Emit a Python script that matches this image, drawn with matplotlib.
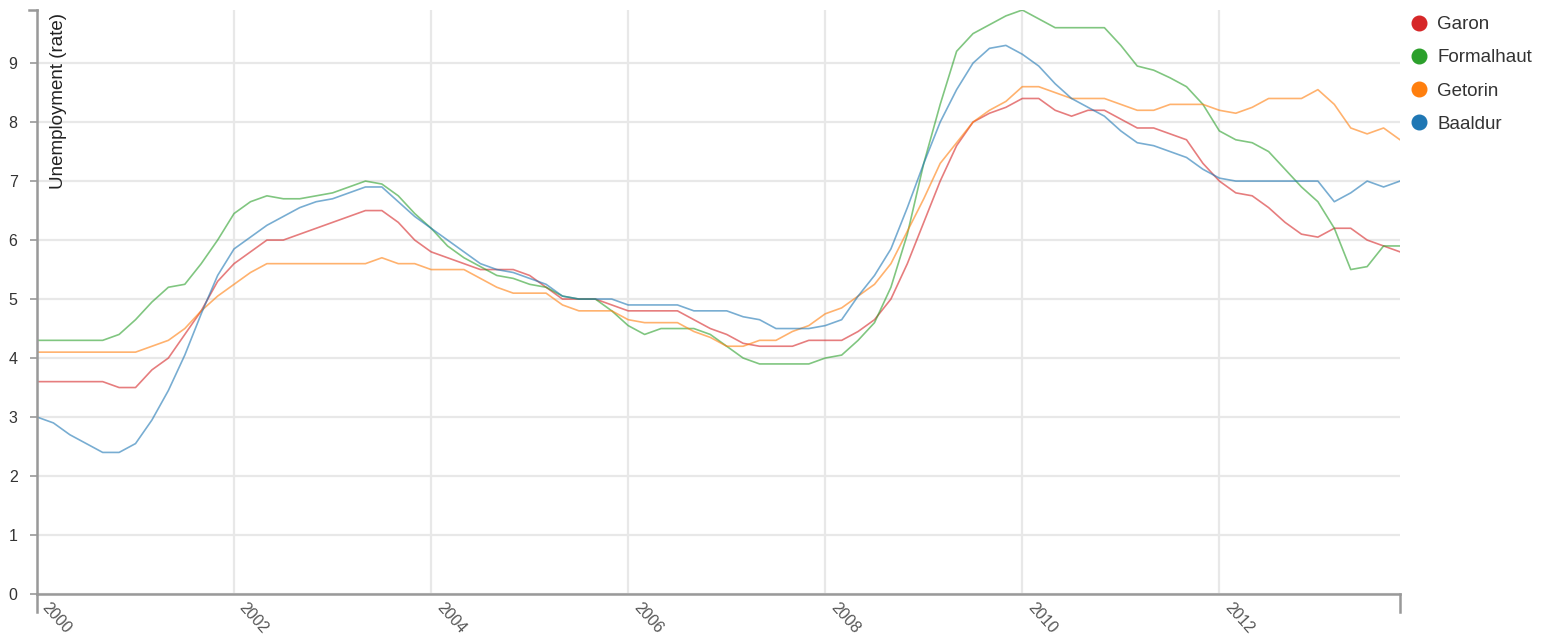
import matplotlib
matplotlib.use("Agg")
import matplotlib.pyplot as plt
import matplotlib.transforms as mtransforms
from matplotlib.lines import Line2D
import numpy as np

plt.rcParams["font.family"] = ["Liberation Sans", "DejaVu Sans"]

# Bimonthly samples: Jan 2000, Mar 2000, ... Nov 2013
start_year = 2000
n_points = 84
dates = [start_year + (2 * k) / 12.0 for k in range(n_points)]

garon = [3.6, 3.6, 3.6, 3.6, 3.6, 3.5, 3.5, 3.8, 4.0, 4.4, 4.8, 5.3,
         5.6, 5.8, 6.0, 6.0, 6.1, 6.2, 6.3, 6.4, 6.5, 6.5, 6.3, 6.0,
         5.8, 5.7, 5.6, 5.5, 5.5, 5.5, 5.4, 5.2, 5.0, 5.0, 5.0, 4.9,
         4.8, 4.8, 4.8, 4.8, 4.65, 4.5, 4.4, 4.25, 4.2, 4.2, 4.2, 4.3,
         4.3, 4.3, 4.45, 4.65, 5.0, 5.6, 6.3, 7.0, 7.6, 8.0, 8.15, 8.25,
         8.4, 8.4, 8.2, 8.1, 8.2, 8.2, 8.05, 7.9, 7.9, 7.8, 7.7, 7.3,
         7.0, 6.8, 6.75, 6.55, 6.3, 6.1, 6.05, 6.2, 6.2, 6.0, 5.9, 5.8]

formalhaut = [4.3, 4.3, 4.3, 4.3, 4.3, 4.4, 4.65, 4.95, 5.2, 5.25, 5.6, 6.0,
              6.45, 6.65, 6.75, 6.7, 6.7, 6.75, 6.8, 6.9, 7.0, 6.95, 6.75, 6.45,
              6.2, 5.9, 5.7, 5.55, 5.4, 5.35, 5.25, 5.2, 5.05, 5.0, 5.0, 4.8,
              4.55, 4.4, 4.5, 4.5, 4.5, 4.4, 4.2, 4.0, 3.9, 3.9, 3.9, 3.9,
              4.0, 4.05, 4.3, 4.6, 5.2, 6.1, 7.3, 8.3, 9.2, 9.5, 9.65, 9.8,
              9.9, 9.75, 9.6, 9.6, 9.6, 9.6, 9.3, 8.95, 8.88, 8.75, 8.6, 8.3,
              7.85, 7.7, 7.65, 7.5, 7.2, 6.9, 6.65, 6.2, 5.5, 5.55, 5.9, 5.9]

getorin = [4.1, 4.1, 4.1, 4.1, 4.1, 4.1, 4.1, 4.2, 4.3, 4.5, 4.8, 5.05,
           5.25, 5.45, 5.6, 5.6, 5.6, 5.6, 5.6, 5.6, 5.6, 5.7, 5.6, 5.6,
           5.5, 5.5, 5.5, 5.35, 5.2, 5.1, 5.1, 5.1, 4.9, 4.8, 4.8, 4.8,
           4.65, 4.6, 4.6, 4.6, 4.45, 4.35, 4.2, 4.2, 4.3, 4.3, 4.45, 4.55,
           4.75, 4.85, 5.05, 5.25, 5.6, 6.15, 6.7, 7.3, 7.65, 8.0, 8.2, 8.35,
           8.6, 8.6, 8.5, 8.4, 8.4, 8.4, 8.3, 8.2, 8.2, 8.3, 8.3, 8.3,
           8.2, 8.15, 8.25, 8.4, 8.4, 8.4, 8.55, 8.3, 7.9, 7.8, 7.9, 7.7]

baaldur = [3.0, 2.9, 2.7, 2.55, 2.4, 2.4, 2.55, 2.95, 3.45, 4.05, 4.75, 5.4,
           5.85, 6.05, 6.25, 6.4, 6.55, 6.65, 6.7, 6.8, 6.9, 6.9, 6.65, 6.4,
           6.2, 6.0, 5.8, 5.6, 5.5, 5.45, 5.35, 5.25, 5.05, 5.0, 5.0, 5.0,
           4.9, 4.9, 4.9, 4.9, 4.8, 4.8, 4.8, 4.7, 4.65, 4.5, 4.5, 4.5,
           4.55, 4.65, 5.05, 5.4, 5.85, 6.55, 7.3, 8.0, 8.55, 9.0, 9.25, 9.3,
           9.15, 8.95, 8.65, 8.4, 8.25, 8.1, 7.85, 7.65, 7.6, 7.5, 7.4, 7.2,
           7.05, 7.0, 7.0, 7.0, 7.0, 7.0, 7.0, 6.65, 6.8, 7.0, 6.9, 7.0]

series_names = ["Garon", "Formalhaut", "Getorin", "Baaldur"]
series_values = [garon, formalhaut, getorin, baaldur]
series_colors = ["#d62728", "#2ca02c", "#ff7f0e", "#1f77b4"]

x_ticks = [2000, 2002, 2004, 2006, 2008, 2010, 2012]
y_ticks = [0, 1, 2, 3, 4, 5, 6, 7, 8, 9]
y_label = "Unemployment (rate)"

W, H = 1546, 640
fig = plt.figure(figsize=(W / 100, H / 100), dpi=100)
fig.patch.set_facecolor("white")
ax = fig.add_axes([37 / W, 1 - 594 / H, (1400 - 37) / W, (594 - 10) / H])

for name, vals, col in zip(series_names, series_values, series_colors):
    ax.plot(dates, vals, color=col, lw=1.2, alpha=0.6, solid_joinstyle="round")

ymax = max(max(v) for v in series_values)
ax.set_xlim(dates[0], dates[-1])
ax.set_ylim(0, ymax)

# x ticks: grid positions, labels drawn manually (rotated, offset like d3)
ax.set_xticks(x_ticks)
ax.set_xticklabels([])
xlab_trans = mtransforms.blended_transform_factory(ax.transData, ax.transAxes) + \
    mtransforms.ScaledTranslation(8 / 100, -11 / 100, fig.dpi_scale_trans)
for t in x_ticks:
    ax.text(t, 0, str(t), transform=xlab_trans, rotation=-48, ha="left", va="center",
            rotation_mode="anchor", fontsize=11.5, color="#555555", clip_on=False)

ax.set_yticks(y_ticks)
ax.set_yticklabels([str(t) for t in y_ticks], fontsize=11.5, color="#333333")

ax.grid(True, color="#e8e8e8", lw=1.6)
ax.set_axisbelow(True)
for s in ["top", "right"]:
    ax.spines[s].set_visible(False)
for s in ["left", "bottom"]:
    ax.spines[s].set_color("#999999")
    ax.spines[s].set_linewidth(1.8)
ax.tick_params(axis="both", colors="#999999", length=5, width=1.2)
ax.tick_params(axis="x", length=0)
ax.tick_params(axis="y", pad=9, labelcolor="#333333")

# d3-style outer end ticks
ax.plot([1.0, 1.0], [0, -0.03], transform=ax.transAxes, color="#999999", lw=1.8, clip_on=False)
ax.plot([0.0, 0.0], [0, -0.03], transform=ax.transAxes, color="#999999", lw=1.8, clip_on=False)
ax.plot([0.0, -0.006], [1.0, 1.0], transform=ax.transAxes, color="#999999", lw=1.8, clip_on=False)

ax.text(0.0095, 0.995, y_label, transform=ax.transAxes, rotation=90, ha="left", va="top",
        fontsize=13.5, color="#222222")

handles = [Line2D([], [], marker="o", linestyle="", markersize=10.5, color=c) for c in series_colors]
fig.legend(handles, series_names, loc="upper left", bbox_to_anchor=(1410 / W, 1 - 16 / H),
           frameon=False, fontsize=13.5, handletextpad=0.45, labelspacing=0.86,
           handlelength=1.0, borderaxespad=0, borderpad=0, labelcolor="#333333")

fig.savefig("out.png", dpi=100, facecolor="white")
